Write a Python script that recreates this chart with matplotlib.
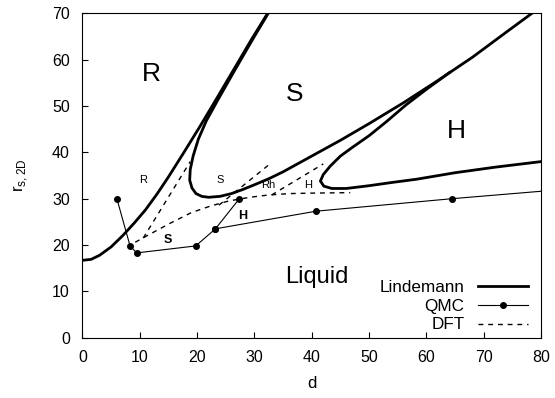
import numpy as np
import matplotlib
matplotlib.use('Agg')
import matplotlib.pyplot as plt

plt.rcParams['font.family'] = ['Liberation Sans', 'DejaVu Sans']

# Lindemann curves
lind_r_d = [0, 1.5, 3, 5, 7, 9, 11, 13, 15, 17.6, 20.5, 23.4, 26.5, 29.5, 32.3]
lind_r_r = [16.7, 16.9, 17.8, 19.6, 22.0, 24.7, 27.6, 31.0, 34.7, 39.8, 45.6, 51.6, 58.1, 64.4, 70]

lind_s_d = [32.4, 29.6, 26.6, 23.7, 21.6, 20.2, 19.3, 18.8, 18.7, 19.1, 19.8, 20.8, 22,
            24, 26, 28, 30, 32.5, 35, 40, 45, 50, 56, 62, 68, 74, 78.4]
lind_s_r = [70, 64.2, 57.8, 51.5, 46.8, 42.8, 39.2, 36.3, 34, 32.3, 31.1, 30.5, 30.3,
            30.5, 31.1, 32, 33, 34.3, 35.8, 39.2, 42.6, 46.2, 50.7, 55.5, 60.5, 66, 70]

lind_h_d = [64, 60, 56.5, 53, 50, 47, 45, 43.2, 42, 41.5, 42.1, 43.5, 46, 50, 54, 58.3,
            65, 72, 80]
lind_h_r = [57.2, 53.6, 50.3, 46.6, 43.6, 41, 39.2, 37, 35.2, 33.8, 32.7, 32.2, 32.2,
            32.8, 33.5, 34.2, 35.6, 36.8, 38]

# QMC
qmc1_d = [6.0, 8.3, 9.45, 19.75, 23.2, 27.3]
qmc1_r = [30.0, 19.8, 18.3, 19.8, 23.5, 29.9]
qmc2_d = [23.2, 40.75, 64.5, 80]
qmc2_r = [23.5, 27.3, 30.0, 31.6]

# DFT boundaries
dft_freeze_d = [9.2, 12, 15.3, 19, 22.3, 25.5, 29.2, 32.5, 36.2, 40, 46.7]
dft_freeze_r = [20.6, 22.5, 24.7, 27, 28.4, 29.5, 30.3, 30.8, 31.1, 31.2, 31.3]
dft_rs_d = [10.6, 18.8]
dft_rs_r = [21.5, 38.0]
dft_srh_d = [23.8, 33.0]
dft_srh_r = [28.6, 37.8]
dft_rhh_d = [33.0, 42.0]
dft_rhh_r = [30.8, 37.5]

fig = plt.figure(figsize=(5.55, 3.98), dpi=100)
ax = fig.add_axes([0.1486, 0.1515, 0.8264, 0.8151])

lw_l = 2.0
ax.plot(lind_r_d, lind_r_r, color='black', lw=lw_l, label='Lindemann')
ax.plot(lind_s_d, lind_s_r, color='black', lw=lw_l)
ax.plot(lind_h_d, lind_h_r, color='black', lw=lw_l)

ax.plot(qmc1_d, qmc1_r, color='black', lw=0.8, marker='o', ms=4, label='QMC')
ax.plot(qmc2_d, qmc2_r, color='black', lw=0.8, marker='o', ms=4, markevery=[0, 1, 2])

dash = (0, (3.5, 3.5))
ax.plot(dft_freeze_d, dft_freeze_r, color='black', lw=1.0, ls=dash, label='DFT')
ax.plot(dft_rs_d, dft_rs_r, color='black', lw=1.0, ls=dash)
ax.plot(dft_srh_d, dft_srh_r, color='black', lw=1.0, ls=dash)
ax.plot(dft_rhh_d, dft_rhh_r, color='black', lw=1.0, ls=dash)

# region labels
ax.text(12, 57, 'R', fontsize=19, ha='center', va='center')
ax.text(37, 52.5, 'S', fontsize=19, ha='center', va='center')
ax.text(65.3, 44.5, 'H', fontsize=19, ha='center', va='center')
ax.text(40.8, 13, 'Liquid', fontsize=17, ha='center', va='center')
ax.text(10.6, 34, 'R', fontsize=8, ha='center', va='center')
ax.text(24.1, 34, 'S', fontsize=8, ha='center', va='center')
ax.text(32.4, 33, 'Rh', fontsize=8, ha='center', va='center')
ax.text(39.3, 33, 'H', fontsize=8, ha='center', va='center')
ax.text(14.9, 21.1, 'S', fontsize=9, fontweight='bold', ha='center', va='center')
ax.text(27.9, 26.3, 'H', fontsize=9, fontweight='bold', ha='center', va='center')

ax.set_xlim(0, 80)
ax.set_ylim(0, 70)
ax.set_xticks(range(0, 81, 10))
ax.set_yticks(range(0, 71, 10))
ax.tick_params(direction='in', length=4, width=0.8, labelsize=11.5)
ax.tick_params(axis='x', pad=9)
ax.tick_params(axis='y', pad=9)
ax.set_xlabel('d', fontsize=12, labelpad=8)
ax.set_ylabel(r'r$_{\mathregular{s,2D}}$', fontsize=12, labelpad=16)

leg = ax.legend(loc='lower right', frameon=False, markerfirst=False, fontsize=12.3,
                handlelength=2.9, labelspacing=0.22, borderaxespad=0.0,
                bbox_to_anchor=(0.986, -0.005))
for t in leg.get_texts():
    t.set_ha('right')

fig.savefig('out.png', dpi=100)
